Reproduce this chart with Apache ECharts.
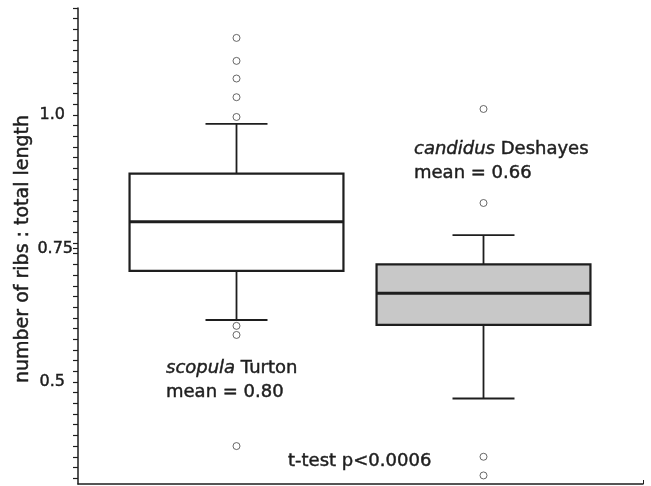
<!DOCTYPE html>
<html><head><meta charset="utf-8">
<script src="https://cdn.jsdelivr.net/npm/echarts@6/dist/echarts.min.js"></script>
<style>html,body{margin:0;padding:0;background:#fff}#c{width:651px;height:486px}</style>
</head><body><div id="c"></div>
<script>
// ---- data ----
const categories = ['scopula Turton', 'candidus Deshayes'];
// [lower whisker, Q1, median, Q3, upper whisker]
const scopulaBox = [0.616, 0.708, 0.800, 0.890, 0.983];
const candidusBox = [0.469, 0.607, 0.666, 0.720, 0.775];
const scopulaOutliers = [1.144, 1.101, 1.068, 1.033, 0.996, 0.605, 0.588, 0.380];
const candidusOutliers = [1.011, 0.835, 0.360, 0.325];
const yTickLabels = [0.5, 0.75, 1.0];
const yMin = 0.309, yMax = 1.2, yMinorStep = 0.02;

// ---- styling ----
const INK = '#1e1e1e';
const FONT = 'DejaVu Sans';
const boxFill = ['#ffffff', '#c8c8c8'];
const HEAVY = 0.45; // slight stroke to mimic the heavier printed type

const minorTicks = [];
for (let k = 0; 1.2 - k * yMinorStep >= yMin - 1e-9; k++) {
  minorTicks.push(+(1.2 - k * yMinorStep).toFixed(2));
}
minorTicks.push(0.75);

const boxData = [scopulaBox, candidusBox].map((b, i) => [i].concat(b));
const outlierData = [];
scopulaOutliers.forEach(v => outlierData.push([0, v]));
candidusOutliers.forEach(v => outlierData.push([1, v]));

function renderBox(params, api) {
  const x = api.value(0);
  const lo = api.coord([x, api.value(1)]);
  const q1 = api.coord([x, api.value(2)]);
  const med = api.coord([x, api.value(3)]);
  const q3 = api.coord([x, api.value(4)]);
  const hi = api.coord([x, api.value(5)]);
  const band = api.size([1, 0])[0];
  const bw = band * 0.866, cw = band * 0.251;
  const cx = q1[0];
  const fill = boxFill[params.dataIndex];
  const ls = {stroke: INK, lineWidth: 1.8};
  return {type: 'group', children: [
    {type: 'line', shape: {x1: cx, y1: hi[1], x2: cx, y2: q3[1]}, style: ls},
    {type: 'line', shape: {x1: cx, y1: q1[1], x2: cx, y2: lo[1]}, style: ls},
    {type: 'line', shape: {x1: cx - cw / 2, y1: hi[1], x2: cx + cw / 2, y2: hi[1]}, style: ls},
    {type: 'line', shape: {x1: cx - cw / 2, y1: lo[1], x2: cx + cw / 2, y2: lo[1]}, style: ls},
    {type: 'rect', shape: {x: cx - bw / 2, y: q3[1], width: bw, height: q1[1] - q3[1]},
      style: {fill: fill, stroke: INK, lineWidth: 2.2}},
    {type: 'line', shape: {x1: cx - bw / 2, y1: med[1], x2: cx + bw / 2, y2: med[1]},
      style: {stroke: INK, lineWidth: 3}}
  ]};
}

const chart = echarts.init(document.getElementById('c'), null, {renderer: 'canvas'});
const txt = {fontFamily: FONT, fontSize: 18, fill: INK, stroke: INK, lineWidth: HEAVY};
const italic = {fontFamily: FONT, fontSize: 18, fontStyle: 'italic', fill: INK,
  stroke: INK, lineWidth: HEAVY};
chart.setOption({
  animation: false,
  backgroundColor: '#fff',
  grid: [
    {left: 78, right: 8, top: 8, bottom: 2},
    {left: 113, right: 44, top: 8, bottom: 2}
  ],
  xAxis: [
    {gridIndex: 0, type: 'value', min: 0, max: 1,
      axisLine: {show: true, lineStyle: {color: INK, width: 1.5}},
      axisTick: {show: true, inside: true, length: 4, customValues: [1], lineStyle: {color: INK}},
      axisLabel: {show: false}, splitLine: {show: false}},
    {gridIndex: 1, type: 'category', data: categories, show: false}
  ],
  yAxis: [
    {gridIndex: 0, type: 'value', min: yMin, max: yMax,
      axisLine: {show: true, lineStyle: {color: INK, width: 1.5}},
      axisTick: {show: true, length: 5, customValues: minorTicks, lineStyle: {color: INK, width: 1.2}},
      axisLabel: {show: true, customValues: yTickLabels, margin: 5,
        fontFamily: FONT, fontSize: 16, color: INK,
        textBorderColor: INK, textBorderWidth: HEAVY,
        formatter: v => (Math.abs(v - 0.75) < 1e-6 ? '0.75' : '{p|' + v.toFixed(1) + '}'),
        rich: {p: {fontFamily: FONT, fontSize: 16, color: INK, padding: [0, 8, 0, 0],
          textBorderColor: INK, textBorderWidth: HEAVY}}},
      splitLine: {show: false}},
    {gridIndex: 1, type: 'value', min: yMin, max: yMax, show: false, splitLine: {show: false}}
  ],
  series: [
    {type: 'custom', xAxisIndex: 1, yAxisIndex: 1, data: boxData,
      encode: {x: 0, y: [1, 2, 3, 4, 5]}, renderItem: renderBox, z: 2},
    {type: 'scatter', xAxisIndex: 1, yAxisIndex: 1, data: outlierData,
      symbol: 'circle', symbolSize: 7,
      itemStyle: {color: '#fff', borderColor: '#444', borderWidth: 1}, z: 3}
  ],
  graphic: [
    {type: 'text', x: 23, y: 249, rotation: Math.PI / 2,
      style: {text: 'number of ribs : total length', fontFamily: FONT, fontSize: 19, fill: INK,
        stroke: INK, lineWidth: HEAVY, align: 'center', verticalAlign: 'middle'}},
    {type: 'text', x: 166, y: 368,
      style: Object.assign({text: '{i|scopula} Turton', verticalAlign: 'middle', rich: {i: italic}}, txt)},
    {type: 'text', x: 166, y: 392,
      style: Object.assign({text: 'mean = 0.80', verticalAlign: 'middle'}, txt)},
    {type: 'text', x: 414, y: 149,
      style: Object.assign({text: '{i|candidus} Deshayes', verticalAlign: 'middle', rich: {i: italic}}, txt)},
    {type: 'text', x: 414, y: 173,
      style: Object.assign({text: 'mean = 0.66', verticalAlign: 'middle'}, txt)},
    {type: 'text', x: 288, y: 461,
      style: Object.assign({text: 't-test p<0.0006', verticalAlign: 'middle'}, txt)}
  ]
});
</script></body></html>
